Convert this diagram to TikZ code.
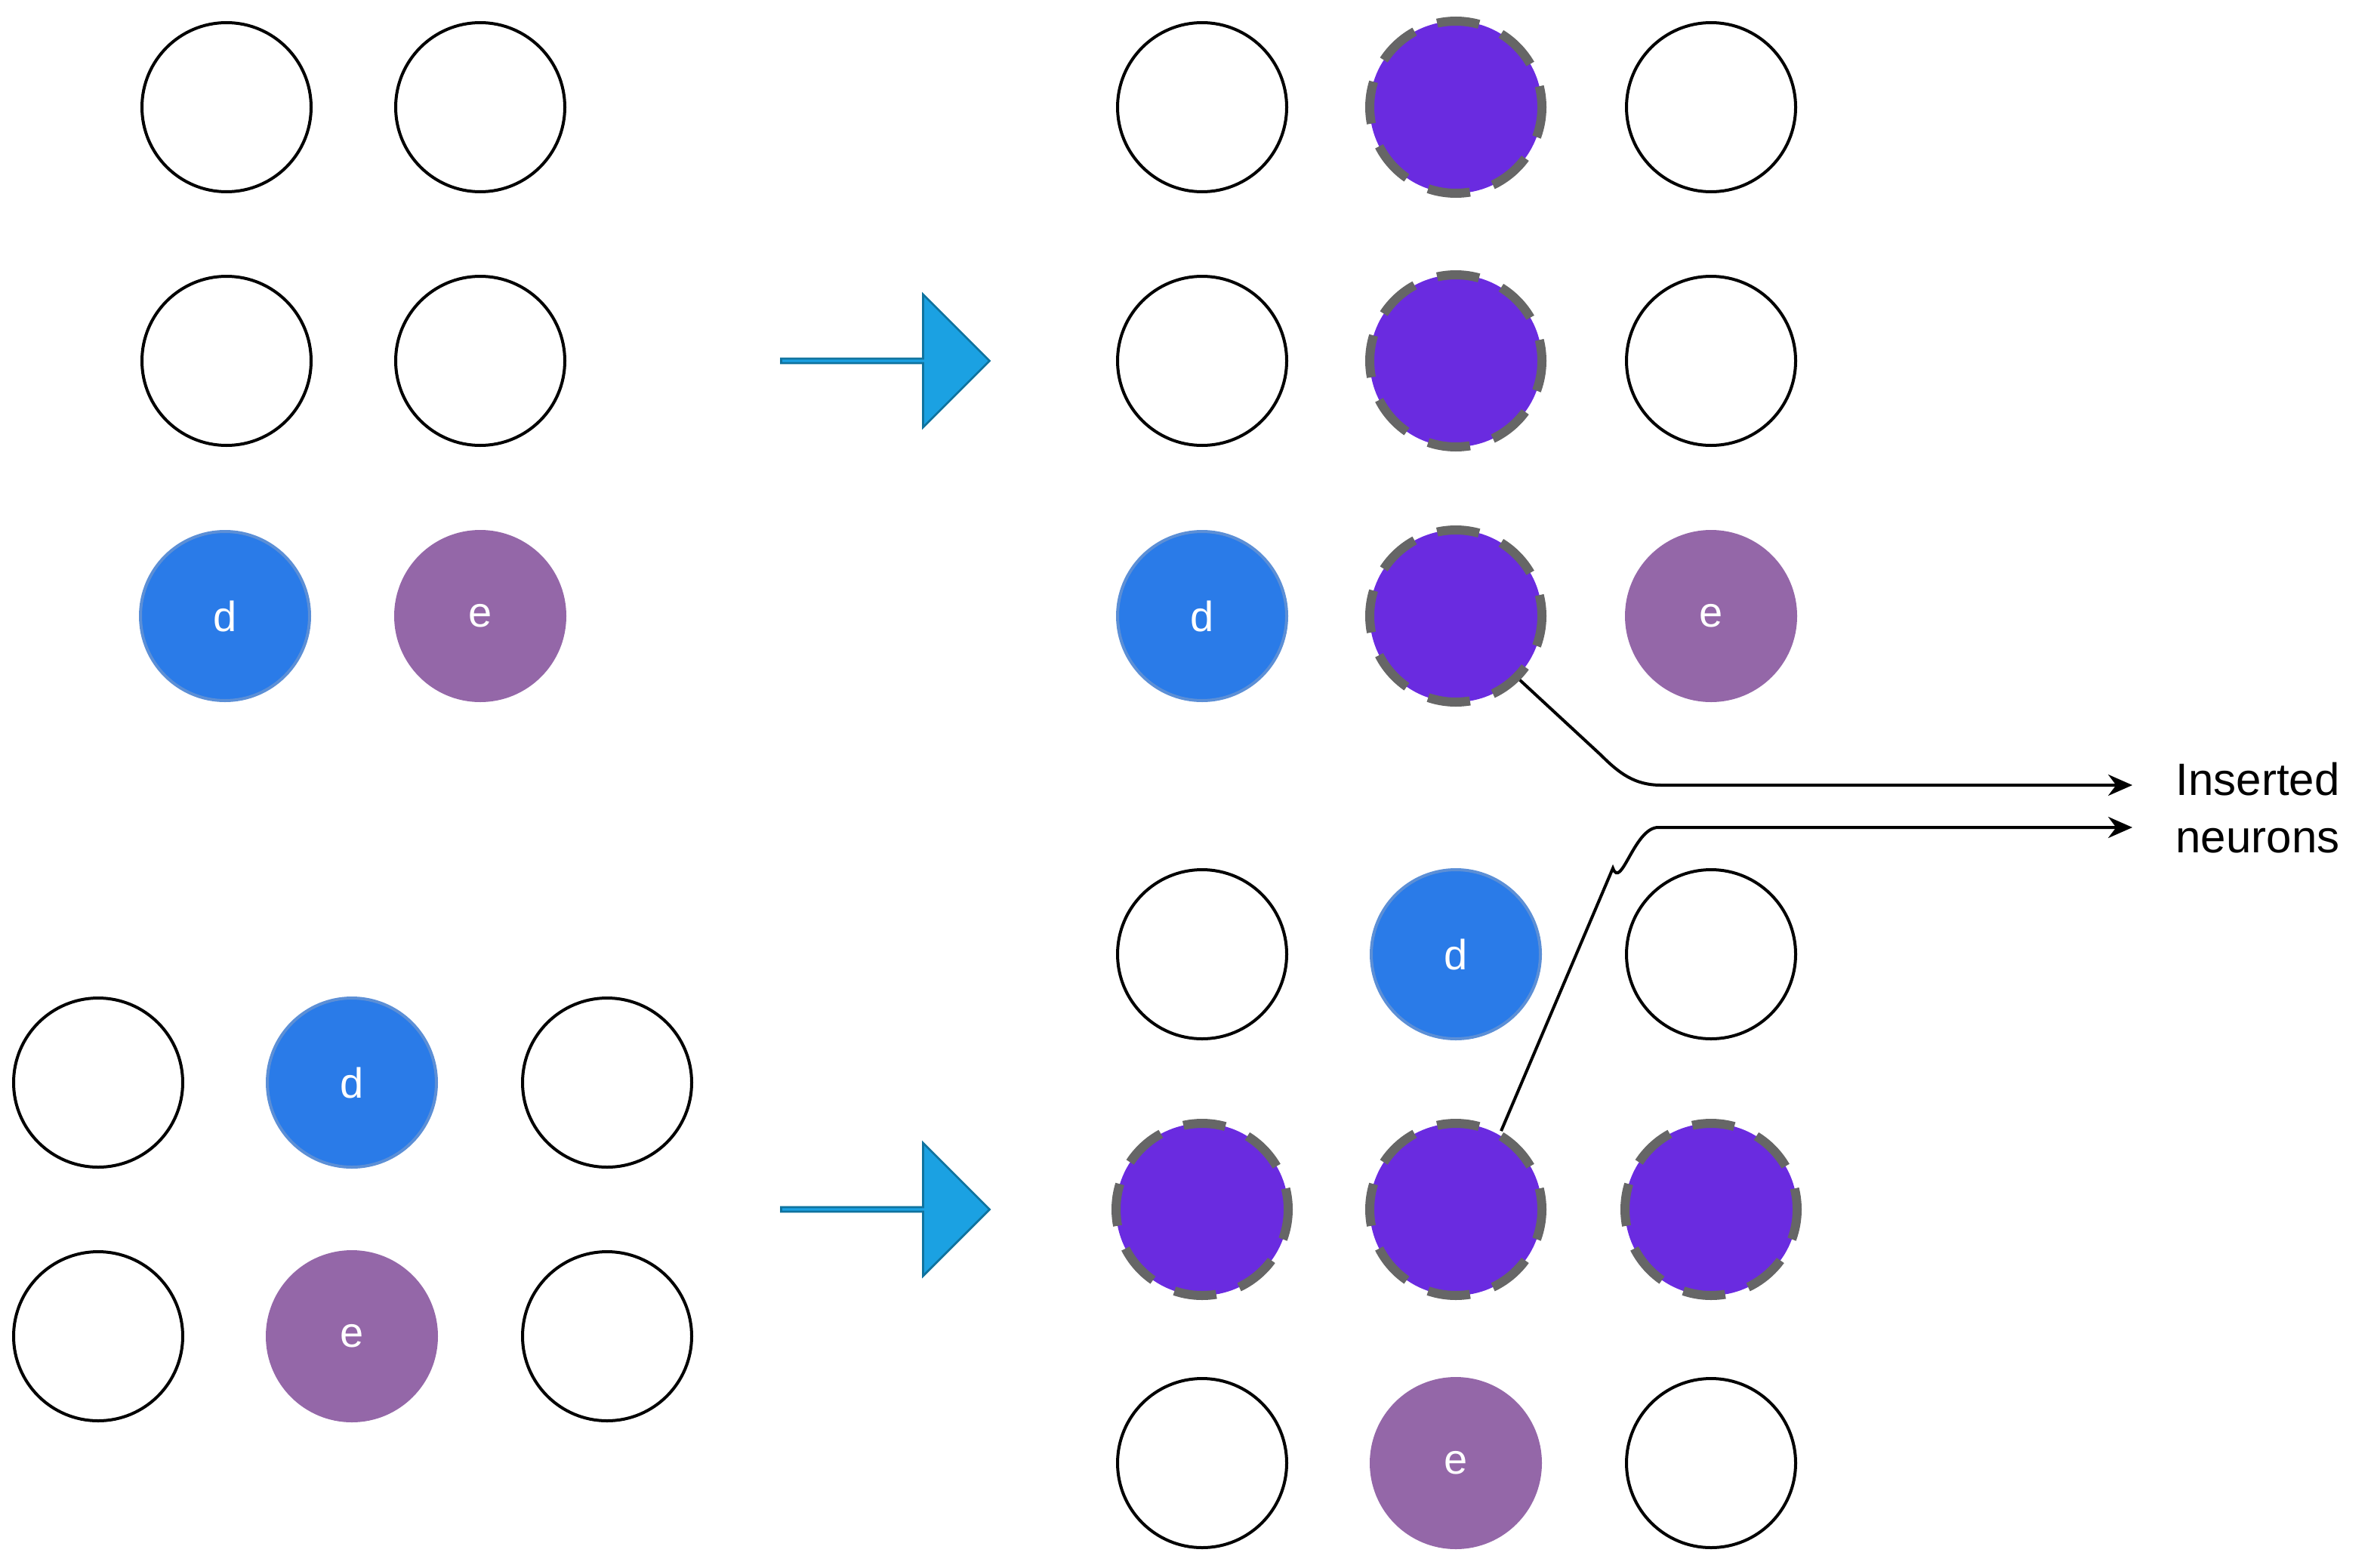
\documentclass[tikz,border=0pt]{standalone}
\usepackage{fontspec}
\setmainfont{Liberation Sans}
\usetikzlibrary{arrows.meta,shapes.arrows}
\definecolor{dblue}{HTML}{2A7BE8}
\definecolor{dblueb}{HTML}{5C8FD6}
\definecolor{epur}{HTML}{9467A8}
\definecolor{ins}{HTML}{6A2BE0}
\definecolor{arrf}{HTML}{1BA1E2}
\definecolor{arrb}{HTML}{10739E}
\begin{document}
\begin{tikzpicture}[x=0.5pt,y=-0.5pt,
  emp/.style={circle,draw=black,line width=1pt,minimum size=56pt,inner sep=0pt},
  dn/.style={circle,fill=dblue,draw=dblueb,line width=1pt,minimum size=56pt,inner sep=0pt,text=white,font=\fontsize{14}{16}\selectfont},
  en/.style={circle,fill=epur,draw=epur,line width=1pt,minimum size=56pt,inner sep=0pt,text=white,font=\fontsize{14}{16}\selectfont},
  insn/.style={circle,fill=ins,draw=black!60,line width=3pt,dash pattern=on 14pt off 8pt,dash phase=7pt,minimum size=57pt,inner sep=0pt},
  barr/.style={single arrow,fill=arrf,draw=arrb,line width=0.7pt,minimum width=44pt,single arrow head extend=10pt,single arrow tip angle=90,minimum height=69pt,inner sep=0pt},
  con/.style={draw=black,line width=1pt,-{Stealth[length=8pt,width=7pt]}}]
\useasboundingbox (0,0) rectangle (1572,1038);
% top-left
\node[emp] (a1) at (150,71) {};
\node[emp] (a2) at (318,71) {};
\node[emp] (a3) at (150,239) {};
\node[emp] (a4) at (318,239) {};
\node[dn] (ad) at (149,408) {d};
\node[en] (ae) at (318,408) {e};
% top-right
\node[emp] (b1) at (796,71) {};
\node[insn] (b2) at (964,71) {};
\node[emp] (b3) at (1133,71) {};
\node[emp] (b4) at (796,239) {};
\node[insn] (b5) at (964,239) {};
\node[emp] (b6) at (1133,239) {};
\node[dn] (bd) at (796,408) {d};
\node[insn] (b8) at (964,408) {};
\node[en] (be) at (1133,408) {e};
% bottom-left
\node[emp] (c1) at (65,717) {};
\node[dn] (cd) at (233,717) {d};
\node[emp] (c3) at (402,717) {};
\node[emp] (c4) at (65,885) {};
\node[en] (ce) at (233,885) {e};
\node[emp] (c6) at (402,885) {};
% bottom-right
\node[emp] (d1) at (796,632) {};
\node[dn] (dd) at (964,632) {d};
\node[emp] (d3) at (1133,632) {};
\node[insn] (d4) at (796,801) {};
\node[insn] (d5) at (964,801) {};
\node[insn] (d6) at (1133,801) {};
\node[emp] (d7) at (796,969) {};
\node[en] (de) at (964,969) {e};
\node[emp] (d9) at (1133,969) {};
% block arrows
\node[barr] (ar1) at (585.5,239) {};
\node[barr] (ar2) at (585.5,801) {};
% label
\node[font=\fontsize{15}{19}\selectfont,align=center] (lab) at (1495,535) {Inserted\\ neurons};
\coordinate (t1) at (1412,520);
\coordinate (t2) at (1412,548);
\draw[con] (b8.-45) -- (1060,500) to[out=-45,in=180] (1100,520) -- (t1);
\draw[con] (d5.60) -- (1068,575) to[out=-70,in=180] (1098,548) -- (t2);
\end{tikzpicture}
\end{document}
